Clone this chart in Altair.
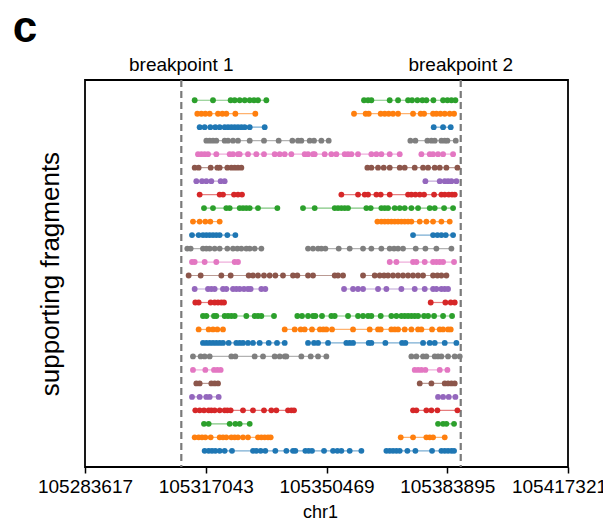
import altair as alt
import pandas as pd

WINDOW_START = 105283617
WINDOW_END = 105417321
TICKS = [105283617, 105317043, 105350469, 105383895, 105417321]
BREAKPOINT_KB = [26.66, 104.01]
BREAKPOINT_LABELS = ["breakpoint 1", "breakpoint 2"]
COLORS = ["#1f77b4", "#ff7f0e", "#2ca02c", "#d62728",
          "#9467bd", "#8c564b", "#e377c2", "#7f7f7f"]

# Supporting fragments, top row first. Each row = (left piece, right piece),
# read positions in kb past WINDOW_START.
row01 = ([30.36, 35.43, 40.32, 41.43, 42.82, 44.20, 45.59, 46.78, 47.89, 50.20],
         [77.24, 78.35, 79.27, 84.35, 86.66, 89.43, 90.54, 92.01, 93.40, 94.50, 96.44, 99.12, 100.32, 101.43, 102.53])
row02 = ([31.09, 32.20, 33.31, 34.51, 36.82, 38.02, 39.12, 41.62, 47.15],
         [74.47, 77.70, 78.54, 81.86, 82.97, 84.07, 85.27, 86.66, 90.81, 92.93, 93.86, 96.35, 97.27, 98.38, 99.58, 100.96, 102.16])
row03 = ([31.74, 33.12, 34.69, 36.08, 37.28, 38.66, 39.59, 40.51, 41.43, 42.35, 43.28, 44.20, 45.59, 49.74],
         [96.53, 99.12, 101.24])
row04 = ([33.59, 34.51, 35.43, 36.35, 38.66, 39.59, 40.97, 42.35, 45.59, 49.55, 53.61, 57.40, 58.97, 59.89, 62.20, 63.40, 65.43, 67.46],
         [90.07, 91.46, 94.78, 95.89, 96.81, 98.66, 99.58, 100.32, 102.63])
row05 = ([31.28, 32.20, 33.12, 34.05, 36.35, 40.05, 40.97, 42.35, 42.82, 45.12, 47.43, 49.55, 52.51, 53.89, 55.28, 57.12,
          60.81, 61.74, 63.12, 63.58, 66.35, 68.20, 69.58, 71.89, 72.81, 73.74, 75.58, 79.27, 80.66, 82.04, 84.35, 87.12],
         [93.12, 95.43, 96.35, 97.73, 99.12, 101.89])
row06 = ([30.36, 31.46, 34.79, 36.63, 37.28, 39.40, 40.51, 41.43, 42.35, 43.28],
         [78.17, 79.27, 81.12, 82.69, 84.35, 87.12, 88.50, 91.27, 93.58, 94.97, 96.81, 98.20, 100.04, 103.09])
row07 = ([30.82, 32.39, 33.59, 34.97, 37.55, 38.66],
         [94.23, 98.20, 99.58, 100.50, 101.43, 102.81])
row08 = ([31.74, 37.28, 38.20, 41.25, 42.35, 43.46],
         [70.97, 75.58, 77.43, 78.35, 80.66, 81.86, 84.35, 89.43, 90.35, 91.46, 92.66, 93.86, 96.63, 98.66, 99.58, 100.69, 101.61, 102.35])
row09 = ([32.94, 35.43, 39.12, 40.05, 42.82, 43.74, 44.66, 45.59, 47.89, 53.25],
         [60.35, 63.58, 69.12, 70.04, 70.97, 71.89, 72.81, 77.89, 79.09, 82.04, 82.97, 83.89, 85.74, 87.12, 88.50, 90.35, 92.20,
          95.43, 96.81, 99.40, 101.89])
row10 = ([29.89, 31.74, 33.31, 34.69, 37.28],
         [80.94, 82.04, 82.97, 83.89, 84.81, 85.74, 86.66, 87.58, 88.50, 89.43, 90.35, 92.66, 94.50, 96.35, 98.66, 100.96])
row11 = ([29.62, 31.46, 32.66, 33.59, 34.51, 35.43, 36.35, 37.28, 39.40, 41.62],
         [90.81, 96.35, 97.55, 98.66, 99.86, 101.89])
row12 = ([28.32, 29.25, 32.66, 33.59, 34.51, 35.89, 37.28, 39.40, 40.97, 42.17, 43.28, 44.66, 45.59, 46.97, 48.82],
         [61.74, 63.12, 64.51, 65.43, 66.54, 70.23, 73.27, 76.97, 79.27, 82.04, 84.35, 85.55, 86.66, 88.04, 91.55, 94.23,
          97.27, 101.43])
row13 = ([29.62, 30.36, 33.12, 36.35, 41.43, 42.35],
         [84.35, 86.20, 90.81, 91.73, 94.04, 96.35, 97.27, 98.20, 99.12, 102.16])
row14 = ([28.69, 32.02, 37.74, 40.32, 45.31, 46.51, 47.89, 49.55, 51.12, 52.69, 54.81, 57.58, 58.78, 61.74, 63.12, 69.12,
          70.04, 71.43],
         [76.97, 80.20, 81.58, 82.78, 83.89, 85.27, 86.66, 88.04, 89.43, 90.81, 92.20, 93.58, 96.35, 97.55, 98.66, 100.04])
row15 = ([30.36, 34.05, 34.97, 35.89, 38.20, 39.12, 40.97, 41.89, 42.82, 44.01, 45.12, 45.86, 48.82, 49.92],
         [71.71, 74.20, 75.58, 76.97, 81.12, 83.43, 87.58, 91.27, 94.04, 96.35, 97.27, 98.66, 99.58, 100.50])
row16 = ([30.54, 31.46, 34.79, 35.89, 36.82, 37.74, 38.48],
         [95.70, 99.76, 101.24, 102.35])
row17 = ([32.66, 33.59, 35.71, 36.35, 38.66, 39.59, 40.51, 41.43, 44.66, 46.97, 47.89, 48.82, 52.32],
         [58.78, 60.08, 61.74, 63.12, 63.77, 65.61, 68.20, 69.12, 72.81, 75.58, 76.97, 78.35, 79.27, 81.86, 84.81, 86.20,
          87.58, 88.50, 89.43, 90.35, 91.27, 92.20, 93.86, 94.97, 96.63, 99.12, 101.61])
row18 = ([31.46, 34.23, 35.43, 36.63, 38.20],
         [55.28, 58.05, 59.71, 60.81, 62.84, 65.03, 65.97, 66.81, 68.38, 74.20, 78.81, 81.12, 81.86, 84.81, 85.74, 86.66,
          88.50, 90.35, 92.20, 93.12, 96.07, 98.20, 99.12, 100.50, 101.24])
row19 = ([32.66, 33.59, 34.51, 35.43, 36.35, 37.28, 38.20, 39.77, 41.89, 42.82, 43.74, 45.12, 46.51, 48.35, 50.85, 53.15, 55.28],
         [61.74, 63.40, 64.51, 67.28, 72.35, 73.27, 74.20, 78.54, 79.27, 83.15, 87.77, 88.69, 93.58, 95.43, 96.81, 99.58, 102.81])
row20 = ([29.89, 32.02, 33.12, 34.51, 40.51, 41.62, 46.97, 49.28, 52.51, 53.89, 55.28, 55.74, 59.89, 62.48, 64.51, 66.81],
         [90.35, 91.73, 93.58, 94.50, 96.81, 97.73, 98.66, 100.50, 102.35, 103.73])
row21 = ([29.89, 33.31, 35.71, 36.63, 37.55],
         [91.27, 92.20, 93.12, 94.23, 98.20, 100.32])
row22 = ([30.82, 31.74, 34.97, 35.89, 36.82],
         [92.66, 95.89, 99.58, 100.50, 101.43, 102.35])
row23 = ([29.62, 31.74, 33.59, 34.51, 37.00],
         [97.73, 99.12, 100.69, 102.53])
row24 = ([30.54, 31.74, 32.94, 34.23, 34.97, 35.89, 37.28, 38.66, 39.40, 40.32, 43.74, 46.51, 49.55, 51.58, 52.97, 56.20,
          57.12, 57.86],
         [90.81, 91.73, 94.50, 95.89, 97.55, 103.09])
row25 = ([32.94, 34.23, 40.05, 41.62, 42.82, 45.59],
         [97.73, 99.12, 100.04, 102.16])
row26 = ([30.36, 31.46, 32.39, 33.31, 34.79, 37.28, 38.20, 39.12, 40.51, 41.43, 42.35, 43.74, 45.12, 47.89, 48.82, 49.74,
          50.66, 51.40],
         [87.40, 90.81, 94.50, 95.43, 96.35, 99.58])
row27 = ([33.12, 34.23, 35.15, 36.08, 37.28, 38.66, 40.69, 46.51, 47.43, 48.63, 49.92, 52.69, 55.74, 57.58, 58.23, 61.00,
          61.92, 62.84, 66.17, 68.66, 69.86, 70.97, 73.27, 76.51],
         [83.43, 84.35, 85.27, 86.20, 87.12, 89.24, 91.46, 96.07, 98.66, 99.58, 100.50, 101.43, 102.16])

ROWS = [row01, row02, row03, row04, row05, row06, row07, row08, row09, row10,
        row11, row12, row13, row14, row15, row16, row17, row18, row19, row20,
        row21, row22, row23, row24, row25, row26, row27]

n = len(ROWS)
records = []
for i, row in enumerate(ROWS):
    level = n - 1 - i
    color = COLORS[level % len(COLORS)]
    for j, piece in enumerate(row):
        for p in piece:
            records.append({"pos": WINDOW_START + round(p * 1000), "row": level,
                            "seg": f"{i}-{j}", "color": color})
df = pd.DataFrame(records)

bp_df = pd.DataFrame({"pos": [WINDOW_START + round(b * 1000) for b in BREAKPOINT_KB],
                      "label": BREAKPOINT_LABELS})

FONT = "Liberation Sans"
W, H = 483, 387

xscale = alt.Scale(domain=[WINDOW_START, WINDOW_END], nice=False, zero=False)
yscale = alt.Scale(domain=[-1.2, 27.5], nice=False, zero=False)

xaxis = alt.Axis(values=TICKS, format="d", title=None, labelFlush=False,
                 labelOverlap=False, grid=False, domain=False,
                 tickColor="black", tickWidth=1.5, tickSize=6,
                 labelFontSize=19, labelColor="black", labelFont=FONT,
                 labelPadding=4,
                 labelOffset={"condition": {"test": f"datum.value >= {WINDOW_END}",
                                            "value": -9}, "value": 0})
yaxis = alt.Axis(title="supporting fragments", labels=False, ticks=False,
                 grid=False, domain=False, titleFontSize=26, titleFont=FONT,
                 titleFontWeight="normal", titleColor="black", titlePadding=22)

base = alt.Chart(df)
lines = base.mark_line(strokeWidth=1.2, opacity=0.6).encode(
    x=alt.X("pos:Q", scale=xscale, axis=xaxis),
    y=alt.Y("row:Q", scale=yscale, axis=yaxis),
    color=alt.Color("color:N", scale=None),
    detail="seg:N",
    order="pos:Q",
)
points = base.mark_circle(size=34, opacity=1).encode(
    x=alt.X("pos:Q", scale=xscale),
    y=alt.Y("row:Q", scale=yscale),
    color=alt.Color("color:N", scale=None),
)

rules = alt.Chart(bp_df).mark_rule(strokeDash=[7, 4], strokeWidth=2.2,
                                   color="#7a7a7a").encode(
    x=alt.X("pos:Q", scale=xscale))

bp_text = alt.Chart(bp_df).mark_text(fontSize=19, font=FONT, color="black",
                                     baseline="alphabetic").encode(
    x=alt.X("pos:Q", scale=xscale), y=alt.value(-9), text="label:N")

panel = alt.Chart(pd.DataFrame({"t": ["c"]})).mark_text(
    fontSize=44, font=FONT, fontWeight="bold", color="black",
    baseline="alphabetic", align="center").encode(
    x=alt.value(-60), y=alt.value(-38), text="t:N")

xtitle = alt.Chart(pd.DataFrame({"t": ["chr1"]})).mark_text(
    fontSize=18, font=FONT, color="black", baseline="alphabetic",
    align="center").encode(
    x=alt.value(W / 2 - 6), y=alt.value(H + 51), text="t:N")

chart = alt.layer(rules, lines, points, bp_text, panel, xtitle).properties(
    width=W, height=H,
    autosize=alt.AutoSizeParams(type="none"),
    padding={"left": 77, "top": 72, "right": 35, "bottom": 53},
).configure(background="white").configure_view(stroke="black", strokeWidth=1.8)

chart.save("out.html", embed_options={"renderer": "svg", "actions": False})
